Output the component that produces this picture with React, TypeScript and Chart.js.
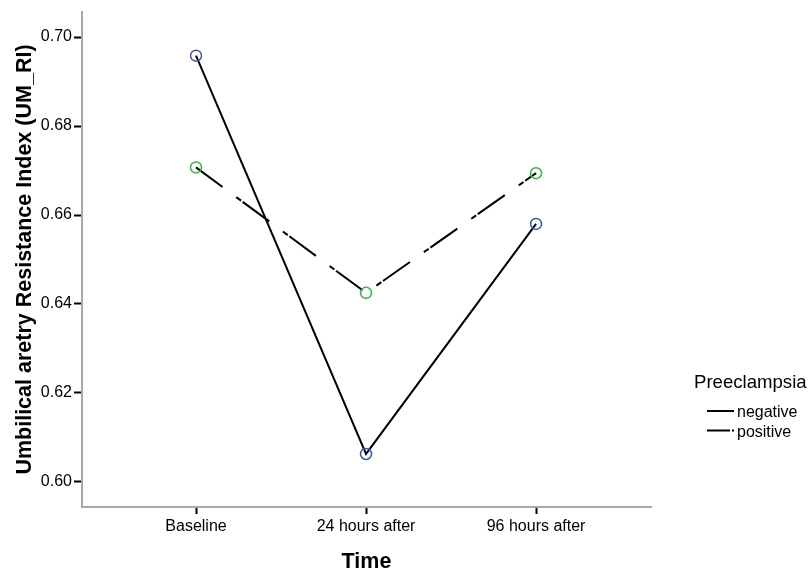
import React, { useEffect, useRef } from 'react';
import { Chart, registerables } from 'chart.js';

Chart.register(...registerables);

const categories = ['Baseline', '24 hours after', '96 hours after'];
const negativeValues = [0.6958, 0.6063, 0.658];
const positiveValues = [0.6707, 0.6425, 0.6694];
const yTicks = [0.6, 0.62, 0.64, 0.66, 0.68, 0.7];
const seriesNames = ['negative', 'positive'];
const legendTitle = 'Preeclampsia';
const xTitle = 'Time';
const yTitle = 'Umbilical aretry Resistance Index (UM_RI)';

const FONT = '"Liberation Sans", Arial, sans-serif';
const NEG_COLOR = '#3f52b3';
const POS_COLOR = '#2db83d';
const POS_DASH = [33, 17, 6, 2];

const legendPlugin = {
  id: 'spssLegend',
  afterDraw(chart: any) {
    const ctx = chart.ctx;
    ctx.save();
    ctx.fillStyle = '#000';
    ctx.textBaseline = 'middle';
    ctx.textAlign = 'left';
    ctx.font = `18.6px ${FONT}`;
    ctx.fillText(legendTitle, 694, 383);
    const dashes = [[], [23, 2, 2, 30]];
    seriesNames.forEach((name, i) => {
      const y = 411 + i * 19.5;
      ctx.beginPath();
      ctx.setLineDash(dashes[i]);
      ctx.lineWidth = 2;
      ctx.strokeStyle = '#000';
      ctx.moveTo(707, y);
      ctx.lineTo(734, y);
      ctx.stroke();
      ctx.setLineDash([]);
      ctx.font = `16px ${FONT}`;
      ctx.fillText(name, 737, y + 2);
    });
    ctx.restore();
  },
};

export default function App() {
  const ref = useRef<HTMLCanvasElement | null>(null);

  useEffect(() => {
    if (!ref.current) return;
    const toPts = (vals: number[]) => vals.map((v, i) => ({ x: i, y: v }));
    const chart = new Chart(ref.current, {
      type: 'line',
      data: {
        datasets: [
          {
            label: seriesNames[0],
            data: toPts(negativeValues),
            borderColor: '#000',
            borderWidth: 2,
            pointBorderColor: NEG_COLOR,
            pointBackgroundColor: 'rgba(0,0,0,0)',
            pointRadius: 5.5,
            pointBorderWidth: 1.5,
            tension: 0,
          },
          {
            label: seriesNames[1],
            data: toPts(positiveValues),
            borderColor: '#000',
            borderWidth: 2,
            borderDash: POS_DASH,
            pointBorderColor: POS_COLOR,
            pointBackgroundColor: 'rgba(0,0,0,0)',
            pointRadius: 5.5,
            pointBorderWidth: 1.5,
            tension: 0,
          },
        ],
      },
      options: {
        responsive: false,
        animation: false,
        layout: { padding: { left: 0, top: 12, right: 158, bottom: 0 } },
        plugins: {
          legend: { display: false },
          tooltip: { enabled: false },
        },
        scales: {
          x: {
            type: 'linear',
            min: -0.6706,
            max: 2.676,
            afterBuildTicks: (s: any) => {
              s.ticks = categories.map((_, i) => ({ value: i }));
            },
            afterFit: (s: any) => {
              s.height = 63;
            },
            ticks: {
              callback: (v: any) => categories[v] ?? '',
              font: { family: FONT, size: 16 },
              color: '#000',
              padding: 3,
              maxRotation: 0,
              autoSkip: false,
            },
            grid: {
              drawOnChartArea: false,
              drawTicks: true,
              tickLength: 7,
              tickColor: '#000',
              tickWidth: 2,
            },
            border: { display: true, color: '#a8a8a8', width: 2 },
            title: {
              display: true,
              text: xTitle,
              color: '#000',
              font: { family: FONT, size: 21.5, weight: 'bold' },
              padding: { top: 0, bottom: -5 },
            },
          },
          y: {
            type: 'linear',
            min: 0.59438,
            max: 0.70562,
            afterBuildTicks: (s: any) => {
              s.ticks = yTicks.map((v) => ({ value: v }));
            },
            afterFit: (s: any) => {
              s.width = 82;
            },
            ticks: {
              callback: (v: any) => Number(v).toFixed(2),
              font: { family: FONT, size: 16 },
              color: '#000',
              padding: 2,
            },
            grid: {
              drawOnChartArea: false,
              drawTicks: true,
              tickLength: 8,
              tickColor: '#000',
              tickWidth: 2,
            },
            border: { display: true, color: '#a8a8a8', width: 2 },
            title: {
              display: true,
              text: yTitle,
              color: '#000',
              font: { family: FONT, size: 21.5, weight: 'bold' },
              padding: { top: 12, bottom: 0 },
            },
          },
        },
      },
      plugins: [legendPlugin],
    } as any);
    return () => chart.destroy();
  }, []);

  return (
    <div style={{ position: 'fixed', left: 0, top: 0, width: 809, height: 570, background: '#fff' }}>
      <canvas ref={ref} width={809} height={570} />
    </div>
  );
}
